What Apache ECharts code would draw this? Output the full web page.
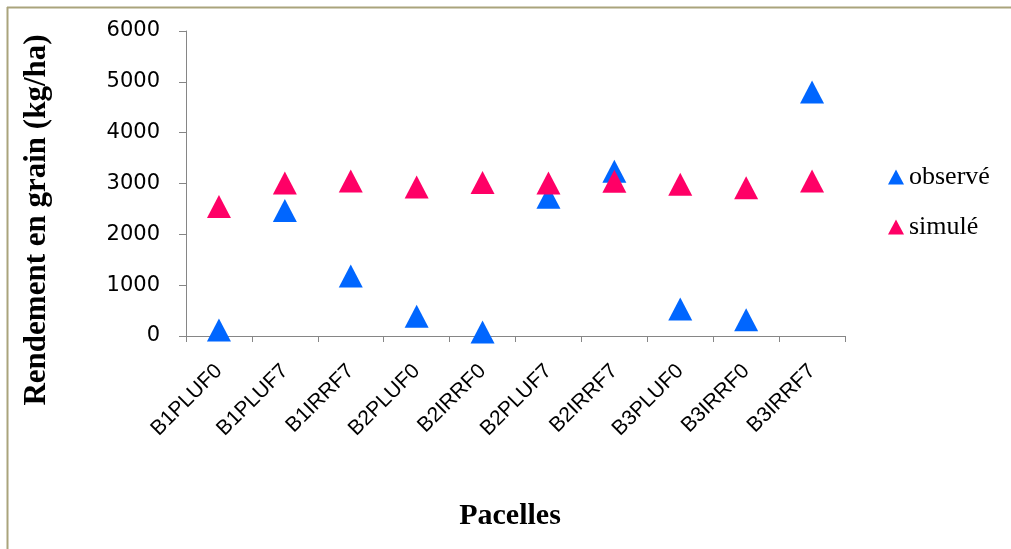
<!DOCTYPE html>
<html>
<head>
<meta charset="utf-8">
<script src="https://cdn.jsdelivr.net/npm/echarts@6/dist/echarts.min.js"></script>
<style>html,body{margin:0;padding:0;background:#fff}#c{width:1011px;height:549px}</style>
</head>
<body>
<div id="c"></div>
<script>
var categories = ['B1PLUF0','B1PLUF7','B1IRRF7','B2PLUF0','B2IRRF0','B2PLUF7','B2IRRF7','B3PLUF0','B3IRRF0','B3IRRF7'];
var observe = [120, 2470, 1180, 390, 80, 2730, 3240, 530, 320, 4800];
var simule = [2550, 3010, 3050, 2930, 3020, 3010, 3045, 2985, 2915, 3050];
var yTicks = [0, 1000, 2000, 3000, 4000, 5000, 6000];

var chart = echarts.init(document.getElementById('c'));
chart.setOption({
  animation: false,
  backgroundColor: '#ffffff',
  grid: {left: 186, right: 166, top: 31, bottom: 213, containLabel: false},
  legend: {
    orient: 'vertical',
    left: 883, top: 158,
    itemWidth: 16, itemHeight: 15, itemGap: 22,
    icon: 'triangle',
    textStyle: {fontFamily: 'Liberation Serif', fontSize: 26, color: '#000', lineHeight: 28},
    data: ['observé', 'simulé']
  },
  xAxis: {
    type: 'category',
    data: categories,
    boundaryGap: true,
    axisLine: {lineStyle: {color: '#868686', width: 1}},
    axisTick: {show: true, interval: 0, length: 6, lineStyle: {color: '#868686'}},
    axisLabel: {interval: 0, rotate: 45, margin: 32, fontFamily: 'Liberation Sans', fontSize: 21, color: '#000'},
    splitLine: {show: false}
  },
  yAxis: {
    type: 'value',
    min: yTicks[0], max: yTicks[yTicks.length - 1], interval: 1000,
    axisLine: {show: true, lineStyle: {color: '#868686', width: 1}},
    axisTick: {show: true, length: 7, lineStyle: {color: '#868686'}},
    axisLabel: {margin: 26, fontFamily: 'DejaVu Sans', fontSize: 21, color: '#000',
                formatter: function (v) { return String(v); }},
    splitLine: {show: false}
  },
  series: [
    {name: 'observé', type: 'scatter', symbol: 'triangle', symbolSize: [24, 23], data: observe,
     itemStyle: {color: '#0066ff', opacity: 1}, z: 2},
    {name: 'simulé', type: 'scatter', symbol: 'triangle', symbolSize: [24, 23], data: simule,
     itemStyle: {color: '#ff0066', opacity: 1}, z: 3}
  ],
  graphic: [
    {type: 'line', shape: {x1: 7.5, y1: 7, x2: 7.5, y2: 549}, style: {stroke: '#aaa47c', lineWidth: 2}},
    {type: 'line', shape: {x1: 7, y1: 7.5, x2: 1011, y2: 7.5}, style: {stroke: '#aaa47c', lineWidth: 2}},
    {type: 'text', x: 37, y: 220, rotation: Math.PI / 2,
     style: {text: 'Rendement en grain (kg/ha)', fontFamily: 'Liberation Serif', fontWeight: 'bold', fontSize: 31,
             fill: '#000', textAlign: 'center', textVerticalAlign: 'middle'}},
    {type: 'text', x: 510, y: 516,
     style: {text: 'Pacelles', fontFamily: 'Liberation Serif', fontWeight: 'bold', fontSize: 30,
             fill: '#000', textAlign: 'center', textVerticalAlign: 'middle'}}
  ]
});
</script>
</body>
</html>
